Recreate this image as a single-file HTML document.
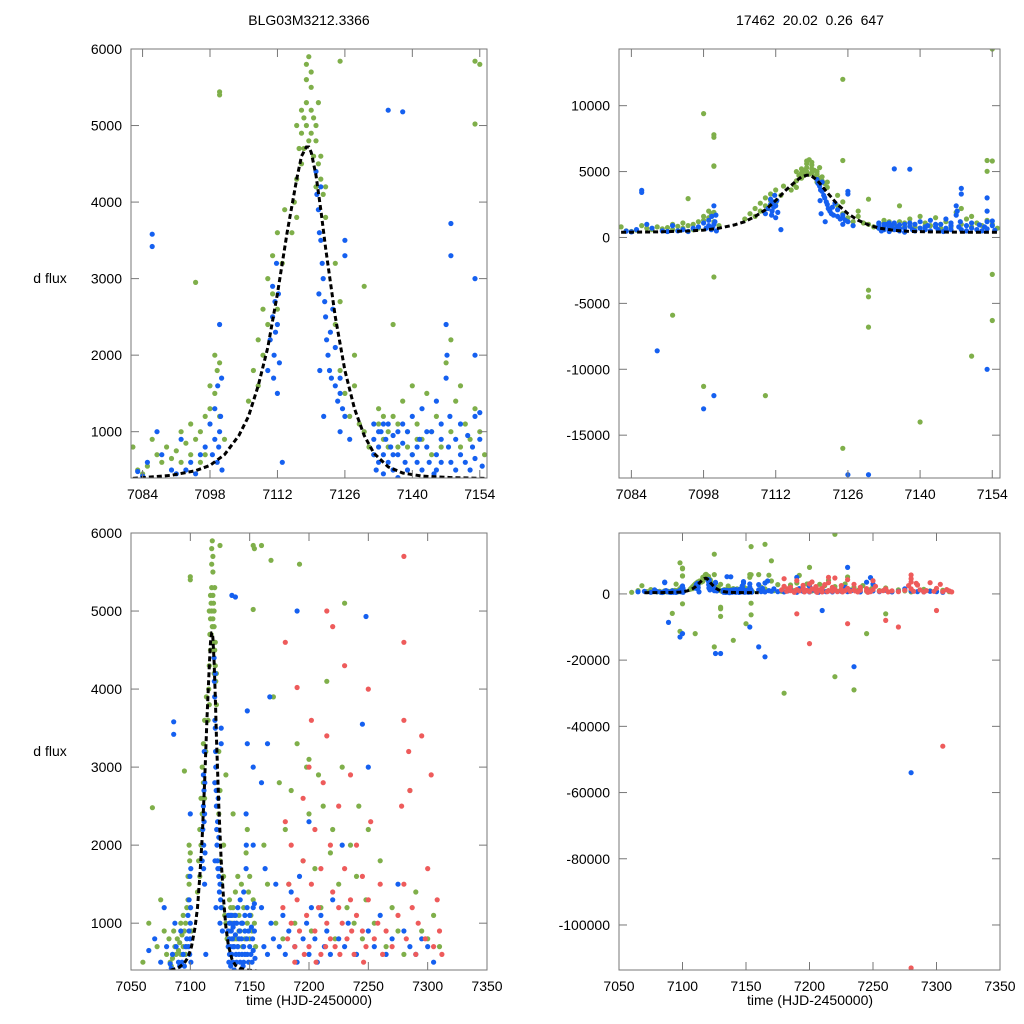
<!DOCTYPE html>
<html><head><meta charset="utf-8">
<style>
html,body{margin:0;padding:0;background:#fff;width:1024px;height:1024px;overflow:hidden;}
svg{display:block;font-family:"Liberation Sans",sans-serif;}
</style></head>
<body>
<svg id="chart" width="1024" height="1024" viewBox="0 0 1024 1024">
<rect width="1024" height="1024" fill="#fff"/>
<text x="309" y="25" font-size="14" text-anchor="middle">BLG03M3212.3366</text>
<text x="810" y="25" font-size="14" text-anchor="middle" xml:space="preserve">17462  20.02  0.26  647</text>
<text x="50" y="283" font-size="14" text-anchor="middle">d flux</text>
<text x="50" y="756" font-size="14" text-anchor="middle">d flux</text>
<text x="309" y="1005" font-size="14" text-anchor="middle">time (HJD-2450000)</text>
<text x="810" y="1005" font-size="14" text-anchor="middle">time (HJD-2450000)</text>
</svg>
<script>
const modelT=[7070,7082,7090,7095,7098,7101,7104,7106,7108,7110,7112,7114,7116,7117,7118,7118.5,7119,7120,7121,7122,7124,7126,7128,7130,7132,7135,7138,7142,7148,7155,7160];
const modelF=[380,390,430,490,560,700,950,1200,1600,2100,2800,3600,4300,4600,4720,4720,4650,4350,3900,3400,2500,1800,1300,950,720,540,460,420,400,390,380];
const blue=[[7083,480],[7084,420],[7085,600],[7086,3580],[7086,3420],[7087,1000],[7088,700],[7090,500],[7091,450],[7092,900],[7093,500],[7094,600],[7095,450],[7096,700],[7097,800],[7098,1100],[7098.5,700],[7099,900],[7099,1300],[7099.5,600],[7099.6,1600],[7100,1000],[7100,2400],[7099.8,800],[7100.2,1200],[7100.5,500],[7100.4,1700],
[7110,1800],[7110.5,2200],[7111,2500],[7111,2900],[7111.3,2000],[7111.5,2700],[7111.8,3200],[7112,1500],[7112,2400],[7112.2,2800],[7111.2,1700],[7111.6,2300],[7112.4,1900],[7113,600],
[7120,4400],[7120.2,4100],[7120.5,3900],[7120.7,3600],[7121,3500],[7121,4200],[7121.3,3200],[7121.5,3000],[7121.8,2700],[7122,2500],[7122.2,2200],[7122.5,2000],[7122.8,1800],[7123,2300],[7123.2,1700],[7124,1600],[7124.5,1400],[7125,1700],[7125.5,1300],[7126,1200],[7127,900],[7126,3300],[7126,3500],[7120.6,2800],[7120.8,1800],[7121.6,1200],[7123.5,2600],[7124,2100],[7125,1500],[7125,1000],
[7132,700],[7132,900],[7132,1100],[7132.5,500],[7133,800],[7133,600],[7133.5,1000],[7134,700],[7134,450],[7134.5,900],[7135,600],[7135,1100],[7135.5,800],[7136,500],[7136,950],[7137,700],[7137,400],[7138,5180],[7138,850],[7138.5,600],[7139,1000],[7139,500],[7140,700],[7140,1200],[7141,600],[7141.5,900],[7142,500],[7142,1300],[7143,800],[7143.5,600],[7144,1000],[7144.5,450],[7145,700],[7145,1400],[7146,600],[7146,900],[7147,1700],[7147,2400],[7147.2,2000],[7147.5,800],[7147.8,1200],[7148,3720],[7148,3300],[7148,600],[7149,900],[7149,500],[7150,700],[7150,1100],[7151,600],[7151.5,950],[7152,500],[7152.5,800],[7153,1200],[7153,650],[7154,900],[7154,1250],[7154.5,550],[7133,1000],[7134,1100],[7136,700],[7137,1000],[7138,1100],[7141,800],[7143,1000],[7145,500],[7146,1100],
[7089,-8600],[7098,-13000],[7126,-18000],[7153,-10000],[7135,5200],[7153,2000],[7153,3000],
[7065,650],[7070,800],[7075,500],[7078,1200],[7080,700],
[7160,1200],[7160,2800],[7162,700],[7163,1700],[7165,600],[7165,3300],[7167,3900],[7168,1000],[7170,800],[7172,1500],[7175,700],[7178,1100],[7180,600],[7183,900],[7185,1400],[7188,700],[7190,500],[7192,1600],[7195,800],[7198,1000],[7200,2300],[7200,600],[7202,1200],[7205,800],[7207,500],[7210,1100],[7213,700],[7215,900],[7218,600],[7220,1300],[7225,800],[7228,2000],[7230,700],[7233,1000],[7240,600],[7245,3550],[7248,4930],[7250,900],[7255,700],[7260,1100],[7265,600],[7270,800],[7275,1500],[7280,900],[7285,700],[7290,600],[7295,800],[7300,700],[7305,500],
[7165,-19000],[7235,-22000],[7280,-54000],[7130,-18000],[7160,-16000],[7100,-12000],[7190,5000],[7230,8000],[7210,-5000],[7250,3000]];
const green=[[7082,800],[7083,500],[7084,450],[7085,550],[7086,900],[7087,700],[7088,600],[7089,800],[7090,650],[7091,750],[7092,1000],[7093,850],[7094,1100],[7095,2950],[7095,900],[7096,1000],[7097,1200],[7097,700],[7098,1300],[7098,1600],[7099,1500],[7099,2000],[7099.5,1800],[7100,5440],[7100,1200],[7101,900],[7092,600],[7094,700],[7096,600],[7100,1900],
[7106,1400],[7107,1800],[7108,2200],[7108,1600],[7109,2000],[7109,2600],[7110,2400],[7110,3000],[7111,2800],[7111,3300],[7112,2600],[7112,3600],[7113,3200],[7113.5,3900],
[7115,3600],[7115.5,4000],[7116,4300],[7116,3800],[7116.5,4700],[7117,4900],[7117,4500],[7117.5,5100],[7117.5,4700],[7118,5300],[7118,5000],[7118,5600],[7118.5,4800],[7118.5,5900],[7119,5200],[7119,4900],[7119,5500],[7119.5,5100],[7119.5,4600],[7120,5000],[7120,4800],[7120.5,5300],[7120.5,4500],[7121,4600],[7121,4300],[7121.5,4100],[7122,3800],[7122,4200],[7118,5800],[7119,5700],[7117,5200],[7116,5000],[7120,4200],
[7124,2400],[7125,1800],[7125,5840],[7126,1500],[7127,1200],[7128,2000],[7129,1100],[7130,2900],[7130,1000],[7131,800],[7124,3200],[7125,2700],[7128,1600],
[7132,700],[7133,1300],[7134,900],[7135,1000],[7136,2400],[7136,1200],[7137,800],[7138,1400],[7139,1000],[7140,1600],[7140,700],[7141,1100],[7142,900],[7143,1500],[7144,700],[7145,1200],[7146,800],[7147,1900],[7148,2200],[7148,1000],[7149,1400],[7150,800],[7150,1600],[7151,1100],[7152,900],[7153,5840],[7153,5020],[7153,1300],[7154,1000],[7155,700],[7133,1100],[7134,1200],[7135,800],[7137,1100],[7139,800],[7141,900],[7144,1000],
[7092,-5900],[7098,9400],[7098,-11300],[7100,7800],[7100,7600],[7100,-3000],[7100,5400],[7125,12000],[7125,-16000],[7130,-4000],[7130,-4500],[7130,-6800],[7154,14300],[7154,5800],[7154,-6300],[7154,-2800],
[7060,500],[7065,1000],[7068,2480],[7072,700],[7075,1300],[7078,900],[7080,600],[7160,5840],[7162,2000],[7165,1500],[7168,5650],[7170,3900],[7172,1000],[7175,2800],[7178,800],[7180,2200],[7183,1500],[7185,2700],[7188,1000],[7190,3300],[7192,5600],[7195,1800],[7198,3000],[7200,2400],[7200,3100],[7202,900],[7205,1700],[7208,2900],[7210,1200],[7212,2500],[7215,4100],[7218,1900],[7220,2200],[7222,800],[7225,1500],[7228,3000],[7230,5100],[7232,1200],[7235,2000],[7238,1000],[7240,1600],[7242,2500],[7245,800],[7248,1300],[7250,2200],[7255,1000],[7260,1800],[7265,700],[7270,1200],[7275,900],[7280,600],[7285,2700],[7290,1400],[7295,900],[7300,800],[7305,1100],[7310,700],
[7180,-30000],[7220,-25000],[7235,-29000],[7220,18000],[7165,15000],[7110,-12000],[7150,-9000],[7245,-12000],[7200,8000],[7140,-14000],[7170,10000],[7260,-6000]];
const red=[[7178,1200],[7180,2300],[7180,4600],[7182,800],[7183,1500],[7185,1000],[7185,2000],[7188,700],[7190,1300],[7190,4020],[7192,900],[7195,1800],[7195,2600],[7198,1100],[7200,700],[7200,3000],[7202,1500],[7202,3600],[7205,900],[7205,2200],[7208,1200],[7210,600],[7210,1700],[7212,2800],[7215,1000],[7215,3400],[7218,800],[7218,2000],[7220,1400],[7220,4800],[7222,700],[7225,1200],[7225,2500],[7228,1000],[7230,1700],[7230,4300],[7232,800],[7235,1300],[7235,2900],[7238,600],[7240,1100],[7240,2000],[7245,900],[7245,1600],[7248,700],[7250,1300],[7252,2300],[7255,800],[7258,1000],[7260,1500],[7262,600],[7265,900],[7270,700],[7275,1100],[7278,2500],[7280,5700],[7280,4600],[7280,3600],[7280,1500],[7282,800],[7284,3200],[7285,2700],[7287,1200],[7290,600],[7292,1000],[7295,3400],[7298,800],[7300,1700],[7303,2900],[7305,700],[7308,1300],[7310,900],[7312,600],[7188,500],[7196,600],[7206,500],[7214,700],[7226,600],[7236,900],[7246,500],
[7280,-113000],[7305,-46000],[7270,-10000],[7200,-15000],[7260,-8000],[7190,-6000],[7300,-5000],[7230,-9000],[7215,5000],[7250,4000]];
const panel1XTicks=[7084,7098,7112,7126,7140,7154];
const panel1YTicks=[1000,2000,3000,4000,5000,6000];
const panel2YTicks=[-15000,-10000,-5000,0,5000,10000];
const panel3XTicks=[7050,7100,7150,7200,7250,7300,7350];
const panel4YTicks=[-100000,-80000,-60000,-40000,-20000,0];

const NS="http://www.w3.org/2000/svg";
const svg=document.getElementById('chart');
const panels=[
 {n:'top-left',x0:131,x1:487,y0:49,y1:478,xd:[7081.6,7155.5],yd:[395,6000],xt:panel1XTicks,yt:panel1YTicks},
 {n:'top-right',x0:619,x1:1000,y0:49,y1:478,xd:[7081.6,7155.5],yd:[-18250,14300],xt:panel1XTicks,yt:panel2YTicks},
 {n:'bottom-left',x0:131,x1:487,y0:533,y1:970,xd:[7050,7350],yd:[400,6000],xt:panel3XTicks,yt:panel1YTicks},
 {n:'bottom-right',x0:619,x1:1000,y0:533,y1:970,xd:[7050,7350],yd:[-113600,18400],xt:panel3XTicks,yt:panel4YTicks}];
function mk(tag,attrs,parent){const e=document.createElementNS(NS,tag);for(const k in attrs)e.setAttribute(k,attrs[k]);(parent||svg).appendChild(e);return e;}
panels.forEach((p,i)=>{
 const sx=v=>p.x0+(v-p.xd[0])/(p.xd[1]-p.xd[0])*(p.x1-p.x0);
 const sy=v=>p.y1-(v-p.yd[0])/(p.yd[1]-p.yd[0])*(p.y1-p.y0);
 const inside=(t,f)=>t>=p.xd[0]-0.5&&t<=p.xd[1]+0.5&&f>=p.yd[0]-100&&f<=p.yd[1]+100;
 const cp=mk('clipPath',{id:'c'+i});
 mk('rect',{x:p.x0,y:p.y0,width:p.x1-p.x0,height:p.y1-p.y0},cp);
 const g=mk('g',{'clip-path':'url(#c'+i+')'});
 
 
 [[green,'#7faf4a','green-point'],[blue,'#1560f0','blue-point'],[red,'#ee5b5b','red-point']].forEach(([arr,col,nm])=>{
  arr.forEach(d=>{
   if(!inside(d[0],d[1]))return;
   const c=mk('circle',{cx:sx(d[0]).toFixed(1),cy:sy(d[1]).toFixed(1),r:2.6,fill:col},g);
   
   
  });
 });
 const idx=modelT.map((t,k)=>k).filter(k=>modelT[k]>=p.xd[0]-3&&modelT[k]<=p.xd[1]+5);
 const pts=idx.map(k=>sx(modelT[k]).toFixed(1)+','+sy(modelF[k]).toFixed(1)).join(' ');
 const m=mk('polyline',{points:pts,fill:'none',stroke:'#000','stroke-width':3,'stroke-dasharray':'5,3'},g);
 
 
 const fr=mk('rect',{x:p.x0,y:p.y0,width:p.x1-p.x0,height:p.y1-p.y0,fill:'none',stroke:'#777','stroke-width':1});
 
 
 p.xt.forEach(t=>{const x=sx(t);
  mk('line',{x1:x,x2:x,y1:p.y1,y2:p.y1-8,stroke:'#777'});
  mk('line',{x1:x,x2:x,y1:p.y0,y2:p.y0+8,stroke:'#777'});
  const tx=mk('text',{x:x,y:p.y1+21,'font-size':14,'text-anchor':'middle'});tx.textContent=t;
  
  
 });
 p.yt.forEach(v=>{const y=sy(v);
  mk('line',{x1:p.x0,x2:p.x0+8,y1:y,y2:y,stroke:'#777'});
  mk('line',{x1:p.x1,x2:p.x1-8,y1:y,y2:y,stroke:'#777'});
  const tx=mk('text',{x:p.x0-9,y:y+5,'font-size':14,'text-anchor':'end'});tx.textContent=v;
  
  
 });
});
</script>
</body></html>
